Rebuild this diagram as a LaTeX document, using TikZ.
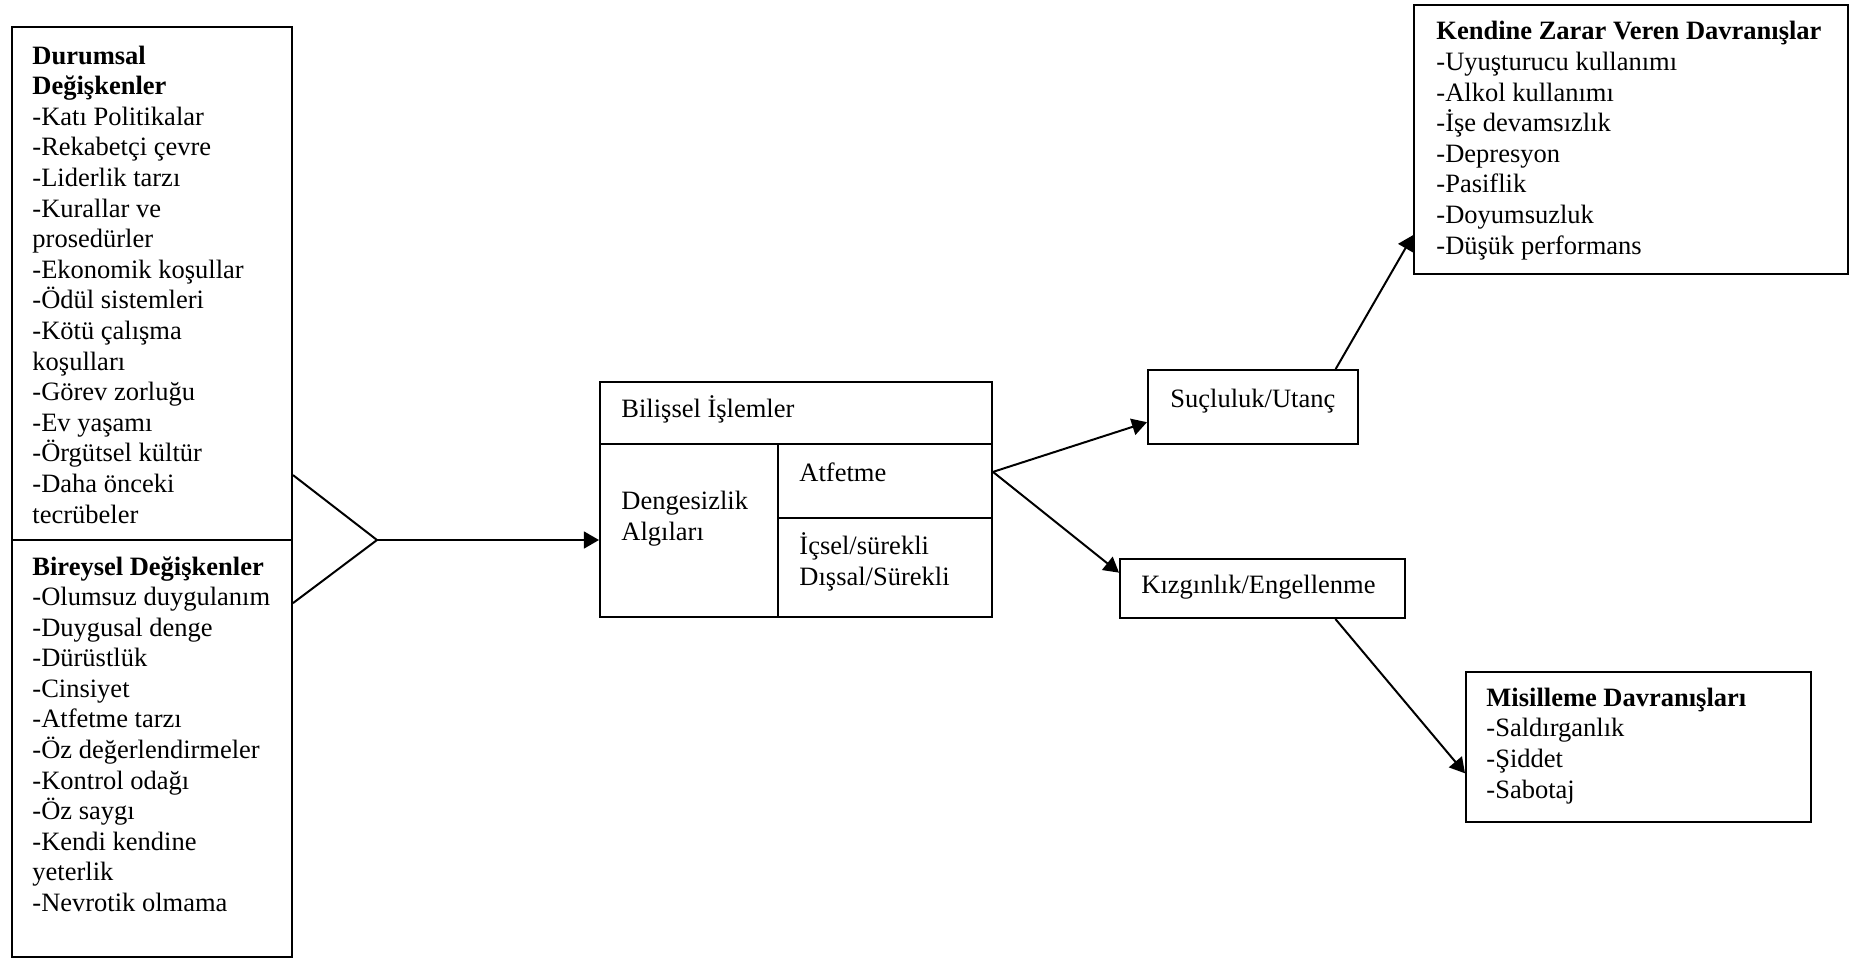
\documentclass[tikz,border=0pt]{standalone}
\usepackage{fontspec}
\setmainfont{Liberation Serif}
\usetikzlibrary{arrows.meta,calc,fit}
\begin{document}
\begin{tikzpicture}[x=0.4528pt,y=-0.4528pt,
  box/.style={draw, line width=0.9pt, inner sep=0pt},
  % multi-line texts are placed by the baseline of their last line
  txt/.style={inner sep=0pt, anchor=base west, align=left,
    font=\fontsize{12pt}{13.85pt}\selectfont},
  link/.style={line width=0.9pt},
  arr/.style={line width=0.9pt, -{Triangle[length=6.8pt,width=7.6pt]}}]
\useasboundingbox (0,0) rectangle (1857,960);

% --- left column: situational and individual variables
\node[box, fit={(12,27) (292,540)}] (dur) {};
\node[box, fit={(12,540) (292,957)}] (bir) {};
\node[txt] (durT) at (32,523) {\textbf{Durumsal}\\\textbf{Değişkenler}\\-Katı Politikalar\\-Rekabetçi çevre\\-Liderlik tarzı\\-Kurallar ve\\prosedürler\\-Ekonomik koşullar\\-Ödül sistemleri\\-Kötü çalışma\\koşulları\\-Görev zorluğu\\-Ev yaşamı\\-Örgütsel kültür\\-Daha önceki\\tecrübeler};
\node[txt] (birT) at (32,911.5) {\textbf{Bireysel Değişkenler}\\-Olumsuz duygulanım\\-Duygusal denge\\-Dürüstlük\\-Cinsiyet\\-Atfetme tarzı\\-Öz değerlendirmeler\\-Kontrol odağı\\-Öz saygı\\-Kendi kendine\\yeterlik\\-Nevrotik olmama};

% --- cognitive processes block
\node[box, fit={(600,382) (992,444)}] (bilH) {};
\node[box, fit={(600,444) (778,617)}] (bilL) {};
\node[box, fit={(778,444) (992,518)}] (bilA) {};
\node[box, fit={(778,518) (992,617)}] (bilI) {};
\node[txt] (bilHT) at (621,417) {Bilişsel İşlemler};
\node[txt] (bilLT) at (621,540.5) {Dengesizlik\\Algıları};
\node[txt] (bilAT) at (799,481) {Atfetme};
\node[txt] (bilIT) at (799,585) {İçsel/sürekli\\Dışsal/Sürekli};

% --- emotions
\node[box, fit={(1148,370) (1358,444)}] (suc) {};
\node[txt] (sucT) at (1170,407) {Suçluluk/Utanç};
\node[box, fit={(1120,559) (1405,618)}] (kiz) {};
\node[txt] (kizT) at (1141,593) {Kızgınlık/Engellenme};

% --- behaviours
\node[box, fit={(1414,5) (1848,274)}] (ken) {};
\node[txt] (kenT) at (1436,254) {\textbf{Kendine Zarar Veren Davranışlar}\\-Uyuşturucu kullanımı\\-Alkol kullanımı\\-İşe devamsızlık\\-Depresyon\\-Pasiflik\\-Doyumsuzluk\\-Düşük performans};
\node[box, fit={(1466,672) (1811,822)}] (mis) {};
\node[txt] (misT) at (1486,798) {\textbf{Misilleme Davranışları}\\-Saldırganlık\\-Şiddet\\-Sabotaj};

% --- connectors
\coordinate (durOut) at ($(dur.north east)!0.872!(dur.south east)$);
\coordinate (birOut) at ($(bir.north east)!0.153!(bir.south east)$);
\coordinate (apex) at (377,540);
\draw[link] (durOut) -- (apex) -- (birOut);
\draw[arr] (apex) -- (apex -| bilL.west);

\coordinate (bilOut) at ($(bilA.north east)!0.38!(bilA.south east)$);
\draw[arr] (bilOut) -- ($(suc.north west)!0.7!(suc.south west)$);
\draw[arr] (bilOut) -- ($(kiz.north west)!0.24!(kiz.south west)$);
\draw[arr] ($(suc.north west)!0.89!(suc.north east)$) -- ($(ken.north west)!0.853!(ken.south west)$);
\draw[arr] ($(kiz.south west)!0.754!(kiz.south east)$) -- ($(mis.north west)!0.673!(mis.south west)$);
\end{tikzpicture}
\end{document}
